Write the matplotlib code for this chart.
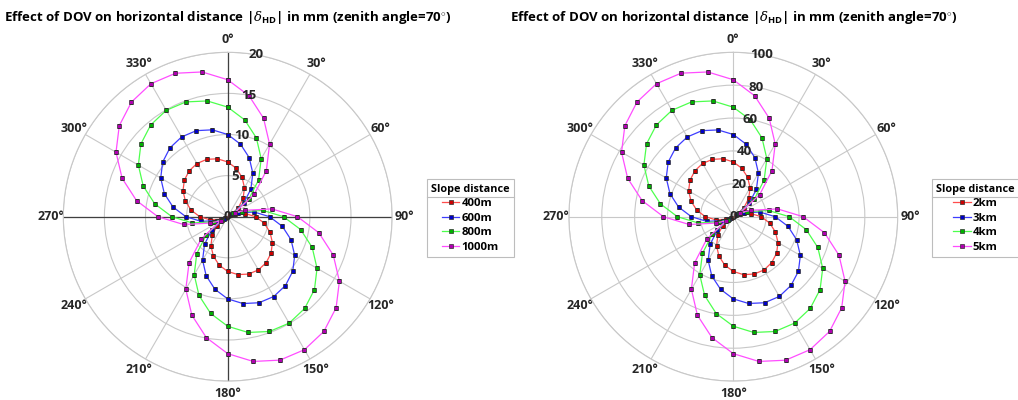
import numpy as np
import matplotlib
matplotlib.use("Agg")
import matplotlib.pyplot as plt
from matplotlib.lines import Line2D

plt.rcParams['font.family'] = ['Open Sans', 'DejaVu Sans']
plt.rcParams['font.weight'] = 'bold'
plt.rcParams['mathtext.fontset'] = 'custom'
plt.rcParams['mathtext.it'] = 'DejaVu Serif:italic:normal'
plt.rcParams['mathtext.bf'] = 'Open Sans:bold'
plt.rcParams['mathtext.rm'] = 'Open Sans:bold'

# azimuth in degrees, 0..350 step 10 (closed at 360)
azimuth = list(range(0, 370, 10))

# |delta_HD| in mm, zenith angle 70 deg
d400 = [6.66, 5.98, 5.10, 4.08, 2.92, 1.68, 0.39, 0.91, 2.18, 3.40, 4.50, 5.47,
        6.28, 6.89, 7.29, 7.47, 7.43, 7.15,
        6.66, 5.98, 5.10, 4.08, 2.92, 1.68, 0.39, 0.91, 2.18, 3.40, 4.50, 5.47,
        6.28, 6.89, 7.29, 7.47, 7.43, 7.15, 6.66]
d600 = [10.00, 8.96, 7.65, 6.11, 4.39, 2.52, 0.58, 1.37, 3.28, 5.09, 6.75, 8.20,
        9.41, 10.33, 10.93, 11.21, 11.14, 10.73,
        10.00, 8.96, 7.65, 6.11, 4.39, 2.52, 0.58, 1.37, 3.28, 5.09, 6.75, 8.20,
        9.41, 10.33, 10.93, 11.21, 11.14, 10.73, 10.00]
d800 = [13.33, 11.95, 10.20, 8.15, 5.85, 3.37, 0.78, 1.83, 4.37, 6.79, 9.01, 10.94,
        12.55, 13.78, 14.57, 14.95, 14.86, 14.30,
        13.33, 11.95, 10.20, 8.15, 5.85, 3.37, 0.78, 1.83, 4.37, 6.79, 9.01, 10.94,
        12.55, 13.78, 14.57, 14.95, 14.86, 14.30, 13.33]
d1000 = [16.66, 14.94, 12.75, 10.19, 7.31, 4.21, 0.97, 2.28, 5.46, 8.49, 11.26, 13.67,
         15.69, 17.22, 18.21, 18.68, 18.57, 17.88,
         16.66, 14.94, 12.75, 10.19, 7.31, 4.21, 0.97, 2.28, 5.46, 8.49, 11.26, 13.67,
         15.69, 17.22, 18.21, 18.68, 18.57, 17.88, 16.66]

d2k = [33.3, 29.9, 25.5, 20.4, 14.6, 8.4, 1.9, 4.6, 10.9, 17.0, 22.5, 27.3,
       31.4, 34.4, 36.4, 37.4, 37.1, 35.8,
       33.3, 29.9, 25.5, 20.4, 14.6, 8.4, 1.9, 4.6, 10.9, 17.0, 22.5, 27.3,
       31.4, 34.4, 36.4, 37.4, 37.1, 35.8, 33.3]
d3k = [50.0, 44.8, 38.3, 30.6, 21.9, 12.6, 2.9, 6.8, 16.4, 25.5, 33.8, 41.0,
       47.1, 51.7, 54.6, 56.0, 55.7, 53.6,
       50.0, 44.8, 38.3, 30.6, 21.9, 12.6, 2.9, 6.8, 16.4, 25.5, 33.8, 41.0,
       47.1, 51.7, 54.6, 56.0, 55.7, 53.6, 50.0]
d4k = [66.6, 59.8, 51.0, 40.8, 29.2, 16.8, 3.9, 9.1, 21.8, 34.0, 45.0, 54.7,
       62.8, 68.9, 72.8, 74.7, 74.3, 71.5,
       66.6, 59.8, 51.0, 40.8, 29.2, 16.8, 3.9, 9.1, 21.8, 34.0, 45.0, 54.7,
       62.8, 68.9, 72.8, 74.7, 74.3, 71.5, 66.6]
d5k = [83.3, 74.7, 63.8, 51.0, 36.6, 21.0, 4.9, 11.4, 27.3, 42.5, 56.3, 68.4,
       78.5, 86.1, 91.1, 93.4, 92.9, 89.4,
       83.3, 74.7, 63.8, 51.0, 36.6, 21.0, 4.9, 11.4, 27.3, 42.5, 56.3, 68.4,
       78.5, 86.1, 91.1, 93.4, 92.9, 89.4, 83.3]

left_labels = ['400m', '600m', '800m', '1000m']
right_labels = ['2km', '3km', '4km', '5km']
left_series = [d400, d600, d800, d1000]
right_series = [d2k, d3k, d4k, d5k]

line_colors = ['#ff4d4d', '#3d3dff', '#4dff4d', '#ff4dff']
marker_colors = ['#cc0000', '#0000c8', '#00b000', '#b000b0']

title = r'Effect of DOV on horizontal distance |$\delta_{\mathbf{HD}}$| in mm (zenith angle=70$^{\circ}$)'

fig = plt.figure(figsize=(10.18, 4.0), dpi=100)

W, H = 1018, 400
R = 164.4


def make_axes(cx, cy, rmax, rticks, series, labels, dark_axes, leg_xy):
    ax = fig.add_axes([(cx - R) / W, 1 - (cy + R) / H, 2 * R / W, 2 * R / H],
                      projection='polar')
    ax.set_theta_zero_location('N')
    ax.set_theta_direction(-1)
    th = np.deg2rad(azimuth)
    for s, lab, lc, mc in zip(series, labels, line_colors, marker_colors):
        ax.plot(th, s, color=lc, lw=0.9, marker='s', ms=3.2, mfc=mc,
                mec='#303030', mew=0.5, label=lab, zorder=3)
    ax.set_ylim(0, rmax)
    ax.set_thetagrids(range(0, 360, 30), [f'{a}°' for a in range(0, 360, 30)],
                      fontsize=9, fontweight='bold', color='#262626')
    ax.set_rgrids(rticks, [''] * len(rticks))
    for r in rticks:
        ax.text(np.deg2rad(10), r, str(r), ha='center', va='center', fontsize=9.5,
                fontweight='bold', color='#262626', zorder=4)
    ax.tick_params(axis='x', pad=-1.5)
    ax.grid(color='#c8c8c8', lw=0.8, ls='-')
    ax.spines['polar'].set_color('#c8c8c8')
    ax.spines['polar'].set_linewidth(0.8)
    if dark_axes:
        for a in (0, 90, 180, 270):
            ax.plot(np.deg2rad([a, a]), [0, rmax], color='#404040', lw=0.9, zorder=2)
    fig.text(cx / W, 1 - 17 / H, title, ha='center', va='center', fontsize=9.5,
             fontweight='bold', color='black')
    leg = ax.legend(loc='upper left', bbox_to_anchor=(leg_xy[0] / W, 1 - leg_xy[1] / H),
                    bbox_transform=fig.transFigure, title='Slope distance',
                    fontsize=8.2, title_fontproperties={'weight': 'bold', 'size': 7.8},
                    fancybox=False, edgecolor='#bdbdbd', framealpha=1,
                    handlelength=1.5, handletextpad=0.2, borderaxespad=0,
                    borderpad=0.4, labelspacing=0.3)
    leg.get_frame().set_linewidth(0.8)
    for t in leg.get_texts():
        t.set_fontweight('bold')
    return ax, leg


ax1, leg1 = make_axes(227.7, 216.7, 20, [0, 5, 10, 15, 20], left_series, left_labels,
                      True, (426.7, 179.3))
ax2, leg2 = make_axes(733.3, 216.7, 100, [0, 20, 40, 60, 80, 100], right_series,
                      right_labels, False, (931.7, 179.3))

# separator line under legend titles
fig.canvas.draw()
inv = fig.transFigure.inverted()
for leg in (leg1, leg2):
    fb = leg.get_frame().get_window_extent()
    tb = leg.get_title().get_window_extent()
    y = tb.y0 - 2
    (x0, yy), (x1, _) = inv.transform([(fb.x0, y), (fb.x1, y)])
    fig.add_artist(Line2D([x0, x1], [yy, yy], color='#bdbdbd', lw=0.8,
                          transform=fig.transFigure))

fig.savefig('out.png', dpi=100)
